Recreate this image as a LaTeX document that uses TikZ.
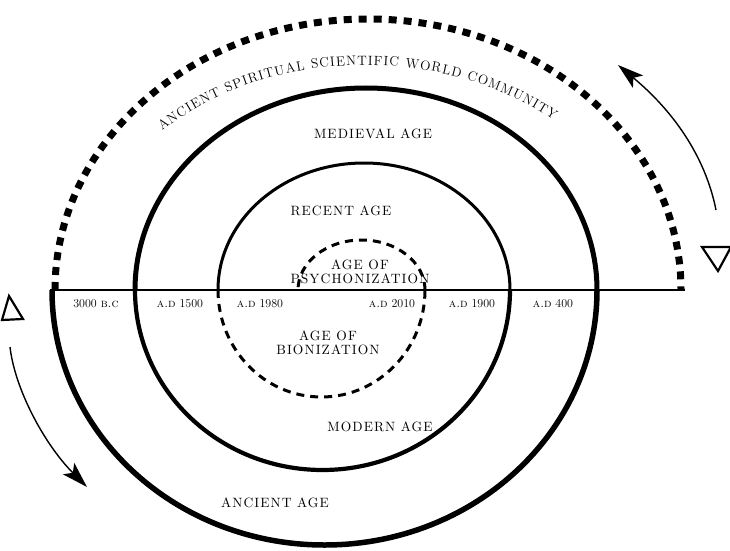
\documentclass[tikz,border=0pt]{standalone}
\usepackage{fontspec}
\usetikzlibrary{decorations.text,arrows.meta}
\newfontfamily\spacedfont[LetterSpace=8]{lmroman10-regular.otf}
\tikzset{
  x=1pt,y=1pt,
  agelabel/.style={font=\spacedfont\fontsize{13.5}{13.5}\selectfont, align=center, inner sep=0pt},
  datelabel/.style={font=\fontsize{12}{12}\selectfont, inner sep=0pt},
  spiralA/.style={line width=5.5pt},
  spiralB/.style={line width=5pt},
  spiralC/.style={line width=4.2pt},
  spiralD/.style={line width=3pt},
  spiralE/.style={line width=3pt, dash pattern=on 8pt off 6pt},
  community/.style={line width=7pt, dash pattern=on 8pt off 7pt},
  axis/.style={line width=1.8pt},
  turnarrow/.style={line width=1.4pt, -{Stealth[length=26pt,width=16pt,inset=6pt]}},
  marker/.style={line width=2.2pt, line join=miter}
}
\begin{document}
\begin{tikzpicture}
\useasboundingbox (0,0) rectangle (730,550);
% outer dashed community arc
\draw[community] (55,260) arc[start angle=180, end angle=0, x radius=313, y radius=271];
% spiral
\draw[spiralA] (52,260) arc[start angle=180, end angle=360, x radius=272.5, y radius=255];
\draw[spiralB] (597,260) arc[start angle=0, end angle=180, x radius=231, y radius=202];
\draw[spiralC] (135,260) arc[start angle=180, end angle=360, x radius=187.5, y radius=180];
\draw[spiralD] (510,260) arc[start angle=0, end angle=180, x radius=146, y radius=127];
\draw[spiralE] (218,260) arc[start angle=180, end angle=360, x radius=103.5, y radius=107];
\draw[spiralE] (425,260) arc[start angle=0, end angle=180, x radius=63.5, y radius=50];
% horizontal axis
\coordinate (axL) at (50,260);
\coordinate (axR) at (685,260);
\draw[axis] (axL) -- (axR);
% curved title
\path[decorate, decoration={text along path, text align={fit to path},
  text={|\fontsize{13.5}{13.5}\selectfont|ANCIENT SPIRITUAL SCIENTIFIC WORLD COMMUNITY}}]
  (365,260) ++(135:287 and 225) arc[start angle=135, end angle=49, x radius=287, y radius=225];
% age labels
\node[agelabel] (medieval) at (373,416) {MEDIEVAL AGE};
\node[agelabel] (recent) at (341,339) {RECENT AGE};
\node[agelabel] (psycho) at (360,278) {AGE OF\\PSYCHONIZATION};
\node[agelabel] (bio) at (328,207) {AGE OF\\BIONIZATION};
\node[agelabel] (modern) at (380,123) {MODERN AGE};
\node[agelabel] (ancient) at (275,47) {ANCIENT AGE};
% dates
\node[datelabel] (d3000) at (96,246) {3000 \textsc{b.c}};
\node[datelabel] (d1500) at (180,246) {\textsc{a.d}\ 1500};
\node[datelabel] (d1980) at (260,246) {\textsc{a.d}\ 1980};
\node[datelabel] (d2010) at (392,246) {\textsc{a.d}\ 2010};
\node[datelabel] (d1900) at (472,246) {\textsc{a.d}\ 1900};
\node[datelabel] (d400) at (553,246) {\textsc{a.d}\ 400};
% arrows
\coordinate (raS) at (716,340);
\coordinate (raE) at (618,485);
\draw[turnarrow] (raS) .. controls (705,395) and (672,440) .. (raE);
\coordinate (laS) at (10,203);
\coordinate (laE) at (87,63);
\draw[turnarrow] (laS) .. controls (15,160) and (45,105) .. (laE);
% triangles
\draw[marker] (2,230) -- (23,231) -- (9,254) -- cycle;
\draw[marker] (702,303) -- (731,303) -- (718,279) -- cycle;
\end{tikzpicture}
\end{document}
